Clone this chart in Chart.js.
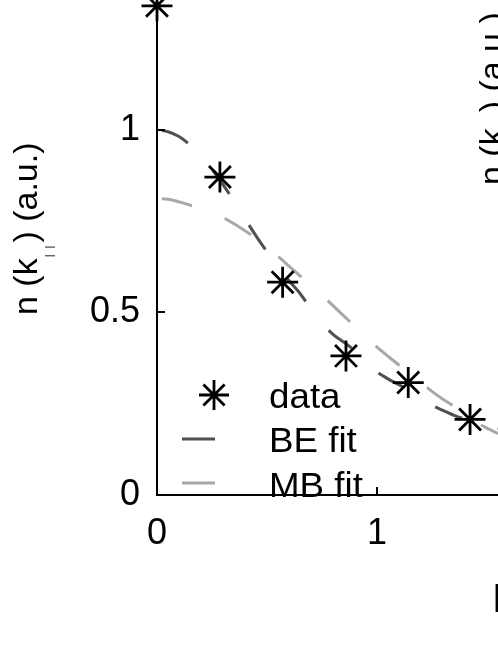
<!DOCTYPE html>
<html><head><meta charset="utf-8">
<script src="https://cdn.jsdelivr.net/npm/chart.js@4"></script>
<style>html,body{margin:0;padding:0;background:#fff;overflow:hidden}canvas{display:block}</style>
</head><body>
<canvas id="c" width="498" height="645"></canvas>
<script>
// measured data (stars)
const xData = [0, 0.286, 0.571, 0.859, 1.142, 1.423];
const yData = [1.34, 0.871, 0.583, 0.381, 0.308, 0.207];
// fit curves
const xFit = [0,0.05,0.1,0.15,0.2,0.25,0.3,0.35,0.4,0.45,0.5,0.55,0.6,0.65,0.7,0.75,0.8,0.85,0.9,0.95,1.0,1.05,1.1,1.15,1.2,1.25,1.3,1.35,1.4,1.45,1.5,1.55];
const beFit = [1.0,0.995,0.982,0.959,0.928,0.892,0.85,0.805,0.757,0.71,0.666,0.624,0.587,0.552,0.51,0.47,0.44,0.418,0.395,0.363,0.337,0.318,0.302,0.285,0.266,0.246,0.232,0.218,0.208,0.199,0.19,0.182];
const mbFit = [0.812,0.81,0.803,0.794,0.783,0.772,0.76,0.743,0.724,0.703,0.68,0.654,0.627,0.6,0.574,0.547,0.519,0.49,0.462,0.433,0.405,0.38,0.356,0.334,0.308,0.284,0.262,0.243,0.222,0.2,0.183,0.168];
const xTicks = [0, 1];
const yTicks = [0, 0.5, 1];
const xTickLabels = ['0', '1'];
const yTickLabels = ['0', '0.5', '1'];
const legendLabels = ['data', 'BE fit', 'MB fit'];

const FONT = "'Liberation Sans', Arial, Helvetica, sans-serif";
const pts = (xs, ys) => xs.map((x, i) => ({x: x, y: ys[i]}));

function stretchedText(ctx, txt, x, y, sx) {
  ctx.save();
  ctx.translate(x, y);
  ctx.scale(sx, 1);
  ctx.fillText(txt, 0, 0);
  ctx.restore();
}

const extras = {
  id: 'extras',
  afterDatasetsDraw(chart) {
    const ctx = chart.ctx;
    const ds = chart.data.datasets;
    ctx.save();
    // legend
    ctx.strokeStyle = '#000'; ctx.fillStyle = '#000';
    Chart.helpers.drawPoint(ctx, {pointStyle: 'star', radius: 15, borderWidth: 2.8, rotation: 0}, 214, 395);
    ctx.setLineDash([]);
    ctx.lineWidth = 3;
    ctx.strokeStyle = ds[1].borderColor;
    ctx.beginPath(); ctx.moveTo(182, 439); ctx.lineTo(215, 439); ctx.stroke();
    ctx.strokeStyle = ds[2].borderColor;
    ctx.beginPath(); ctx.moveTo(182, 483); ctx.lineTo(215, 483); ctx.stroke();
    ctx.fillStyle = '#000';
    ctx.font = '35px ' + FONT;
    ctx.textAlign = 'left'; ctx.textBaseline = 'alphabetic';
    stretchedText(ctx, legendLabels[0], 269, 408, 1.05);
    stretchedText(ctx, legendLabels[1], 269, 452, 1.05);
    stretchedText(ctx, legendLabels[2], 269, 497, 1.05);
    ctx.restore();
  },
  afterDraw(chart) {
    const ctx = chart.ctx;
    const xs = chart.scales.x, ys = chart.scales.y;
    const ca = chart.chartArea;
    ctx.save();
    // inward ticks
    ctx.strokeStyle = '#000'; ctx.lineWidth = 2; ctx.setLineDash([]);
    xTicks.forEach(v => {
      const px = Math.round(xs.getPixelForValue(v));
      ctx.beginPath(); ctx.moveTo(px, ca.bottom); ctx.lineTo(px, ca.bottom - 8); ctx.stroke();
    });
    yTicks.forEach(v => {
      const py = Math.round(ys.getPixelForValue(v));
      ctx.beginPath(); ctx.moveTo(ca.left, py); ctx.lineTo(ca.left + 8, py); ctx.stroke();
    });
    // left y-axis title: n (k||) (a.u.)
    ctx.fillStyle = '#000';
    ctx.translate(37, 315);
    ctx.rotate(-Math.PI / 2);
    ctx.textAlign = 'left'; ctx.textBaseline = 'alphabetic';
    ctx.font = '34px ' + FONT;
    const p1 = 'n (k', p3 = ') (a.u.)';
    ctx.fillText(p1, 0, 0);
    let w = ctx.measureText(p1).width;
    ctx.font = '11px ' + FONT;
    ctx.letterSpacing = '6px';
    ctx.fillText('||', w + 1, 16);
    const ws = ctx.measureText('||').width;
    ctx.letterSpacing = '0px';
    ctx.font = '34px ' + FONT;
    ctx.fillText(p3, w + ws - 2, 0);
    ctx.restore();
    // right panel y-axis title (cut off by the picture edge)
    ctx.save();
    ctx.fillStyle = '#000';
    ctx.translate(503, 185);
    ctx.rotate(-Math.PI / 2);
    ctx.font = '34px ' + FONT;
    ctx.textAlign = 'left'; ctx.textBaseline = 'alphabetic';
    const q1 = 'n (k', q3 = ') (a.u.)';
    ctx.fillText(q1, 0, 0);
    const wq = ctx.measureText(q1).width;
    ctx.font = '18px ' + FONT;
    ctx.fillText('\u22A5', wq + 1, 16);
    const wsq = ctx.measureText('\u22A5').width;
    ctx.font = '34px ' + FONT;
    ctx.fillText(q3, wq + wsq, 0);
    ctx.restore();
    // x-axis title fragment
    ctx.save();
    ctx.fillStyle = '#000';
    ctx.font = '38px ' + FONT;
    ctx.textAlign = 'left'; ctx.textBaseline = 'alphabetic';
    ctx.fillText('k', 493, 612);
    ctx.restore();
  }
};

new Chart(document.getElementById('c'), {
  type: 'line',
  data: {
    datasets: [
      {label: legendLabels[0], data: pts(xData, yData), showLine: false, pointStyle: 'star', pointRadius: 15.5,
       pointBorderWidth: 2.8, pointBorderColor: '#000', pointBackgroundColor: '#000', borderColor: '#000', clip: false},
      {label: legendLabels[1], data: pts(xFit, beFit), borderColor: '#505050', borderWidth: 3, borderDash: [29, 37],
       borderDashOffset: -5, pointRadius: 0, tension: 0.3, fill: false, clip: false},
      {label: legendLabels[2], data: pts(xFit, mbFit), borderColor: '#a8a8a8', borderWidth: 3, borderDash: [31, 35],
       borderDashOffset: -5, pointRadius: 0, tension: 0.3, fill: false, clip: false}
    ]
  },
  options: {
    responsive: false, animation: false, devicePixelRatio: 1,
    layout: {padding: 0, autoPadding: false},
    plugins: {legend: {display: false}, tooltip: {enabled: false}},
    scales: {
      x: {
        type: 'linear', min: 0, max: 1.55, z: 1,
        afterBuildTicks: s => { s.ticks = xTicks.map(v => ({value: v})); },
        afterFit: s => { s.height = 150; s.paddingLeft = 0; s.paddingRight = 0; },
        grid: {display: false, drawTicks: false},
        border: {display: true, color: '#000', width: 2},
        ticks: {padding: 17, color: '#000', font: {family: FONT, size: 36}, maxRotation: 0, autoSkip: false,
                callback: (v, i) => xTickLabels[i]}
      },
      y: {
        type: 'linear', min: 0, max: 1.356, z: 1,
        afterBuildTicks: s => { s.ticks = yTicks.map(v => ({value: v})); },
        afterFit: s => { s.width = 157; s.paddingTop = 0; s.paddingBottom = 0; },
        grid: {display: false, drawTicks: false},
        border: {display: true, color: '#000', width: 2},
        ticks: {padding: 17, color: '#000', font: {family: FONT, size: 36}, autoSkip: false,
                callback: (v, i) => yTickLabels[i]}
      }
    }
  },
  plugins: [extras]
});
</script>
</body></html>
